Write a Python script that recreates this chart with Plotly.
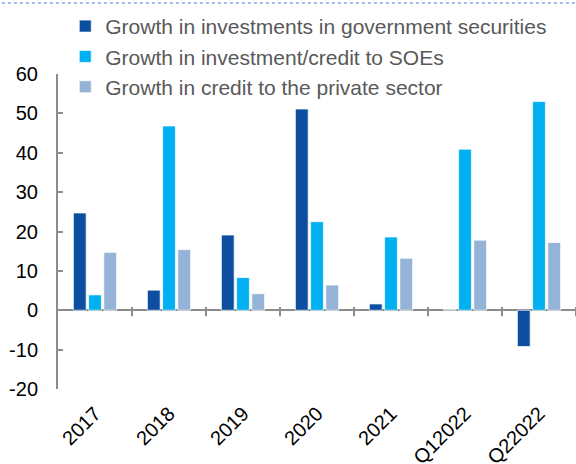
import plotly.graph_objects as go

# Categories and growth rates (%)
categories = ["2017", "2018", "2019", "2020", "2021", "Q12022", "Q22022"]
gov_securities = [24.7, 5.1, 19.1, 51.1, 1.6, 0.2, -9.2]
soe_credit = [3.9, 46.8, 8.3, 22.5, 18.6, 40.9, 53.0]
private_credit = [14.7, 15.4, 4.2, 6.4, 13.2, 17.8, 17.2]

series_names = [
    "Growth in investments in government securities",
    "Growth in investment/credit to SOEs",
    "Growth in credit to the private sector",
]
series_values = [gov_securities, soe_credit, private_credit]
series_colors = ["#0D4EA0", "#00B0F0", "#95B3D7"]

y_tick_values = [-20, -10, 0, 10, 20, 30, 40, 50, 60]
y_tick_labels = ["-20", "-10", "0", "10", "20", "30", "40", "50", "60"]

fig = go.Figure()
for i, (name, vals, col) in enumerate(zip(series_names, series_values, series_colors)):
    fig.add_trace(go.Bar(
        x=categories, y=vals, name=name,
        marker=dict(color=col, line=dict(color="rgba(255,255,255,0.7)", width=1)),
        legendgroup=f"g{i}",
    ))

axis_grey = "#8C8C8C"

# Tick marks on the zero line at category boundaries
shapes = []
for k in range(len(categories)):
    shapes.append(dict(
        type="line", xref="x", yref="y",
        x0=k + 0.5, x1=k + 0.5, y0=-1.5, y1=0.8,
        line=dict(color=axis_grey, width=2),
    ))
# Dotted rule across the top
shapes.append(dict(
    type="line", xref="paper", yref="paper",
    x0=-0.12, x1=1.0, y0=1.2254, y1=1.2254,
    line=dict(color="#4A7CC9", width=1.2, dash="dot"),
))

fig.update_layout(
    width=576, height=464,
    margin=dict(l=58, r=0, t=74, b=75, autoexpand=False),
    paper_bgcolor="white", plot_bgcolor="white",
    barmode="group", bargap=0.383, bargroupgap=0.16,
    font=dict(family="Liberation Sans, Arial, sans-serif", color="black"),
    showlegend=True,
    legend=dict(
        x=0.014, y=1.216, xanchor="left", yanchor="top",
        font=dict(size=21, color="#595959"),
        bgcolor="rgba(0,0,0,0)", tracegroupgap=0,
        itemclick=False,
    ),
    shapes=shapes,
    xaxis=dict(
        type="category", showline=False, ticks="", showgrid=False,
        tickangle=-45, tickfont=dict(size=20, color="black"),
        range=[-0.5, 6.5], ticklabelstandoff=8, automargin=False,
    ),
    yaxis=dict(
        range=[-20, 60], tickvals=y_tick_values, ticktext=y_tick_labels,
        showgrid=False, automargin=False,
        showline=True, linecolor=axis_grey, linewidth=2,
        ticks="inside", ticklen=5, tickwidth=2, tickcolor=axis_grey,
        zeroline=True, zerolinecolor=axis_grey, zerolinewidth=2,
        tickfont=dict(size=20, color="black"),
        ticklabelstandoff=14,
    ),
)

fig.write_html("out.html")
